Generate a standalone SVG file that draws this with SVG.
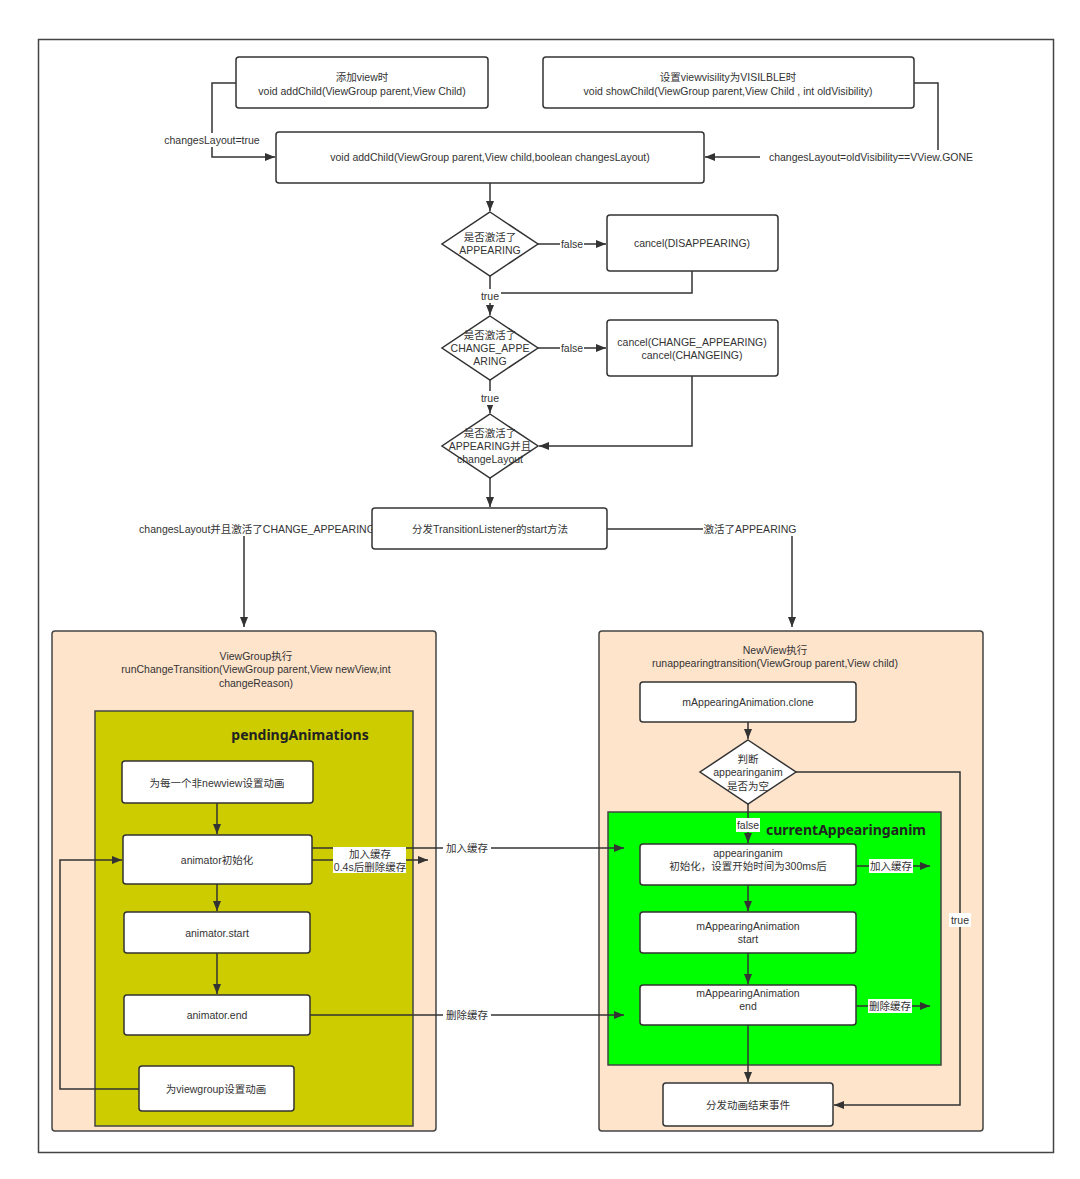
<svg xmlns="http://www.w3.org/2000/svg" width="1080" height="1179" viewBox="0 0 1080 1179">
<defs>
<marker id="ah" viewBox="0 0 10 10" refX="10" refY="5" markerWidth="10" markerHeight="10" markerUnits="userSpaceOnUse" orient="auto">
<path d="M0,1 L10,5 L0,9 Z" fill="#333"/>
</marker>
<style>
text{font-family:"Liberation Sans","Noto Sans CJK SC",sans-serif;font-size:10.5px;fill:#333;text-anchor:middle;dominant-baseline:central}
.box{fill:#fff;stroke:#333;stroke-width:1.5}
.cont{fill:#FFE4CC;stroke:#444;stroke-width:1.5}
.ln{fill:none;stroke:#333;stroke-width:1.5}
.ar{fill:none;stroke:#333;stroke-width:1.5;marker-end:url(#ah)}
.lbl{fill:#fff}
.title{font-family:"Noto Sans","Noto Sans CJK SC",sans-serif;font-weight:bold;font-size:14px;fill:#222}
</style>
</defs>
<rect x="0" y="0" width="1080" height="1179" fill="#fff"/>
<rect x="38.5" y="39.5" width="1015" height="1113" fill="none" stroke="#444" stroke-width="1.5"/>

<g id="containers">
<rect class="cont" x="52" y="631" width="384" height="500" rx="3"/>
<rect x="95" y="711" width="318" height="415" fill="#CCCC00" stroke="#444" stroke-width="1.5"/>
<rect class="cont" x="599" y="631" width="384" height="500" rx="3"/>
<rect x="608" y="812" width="333" height="253" fill="#00FF00" stroke="#444" stroke-width="1.5"/>
</g>

<g id="connectors">
<path class="ar" d="M236,83 H212 V157 H275"/>
<path class="ar" d="M914,83 H938 V157 H705"/>
<path class="ar" d="M490,183 V211"/>
<path class="ar" d="M538,244 H606"/>
<path class="ln" d="M692,271 V293 H490"/>
<path class="ar" d="M490,276 V315"/>
<path class="ar" d="M538,348 H606"/>
<path class="ar" d="M490,380 V413"/>
<path class="ar" d="M692,376 V446 H539"/>
<path class="ar" d="M490,478 V507"/>
<path class="ar" d="M372,529 H244 V627"/>
<path class="ar" d="M607,529 H792 V627"/>
<path class="ar" d="M217,803 V834"/>
<path class="ar" d="M217,884 V911"/>
<path class="ar" d="M217,953 V994"/>
<path class="ar" d="M139,1089 H60 V860 H122"/>
<path class="ar" d="M312,848 H624"/>
<path class="ar" d="M312,860 H428"/>
<path class="ar" d="M310,1015 H624"/>
<path class="ar" d="M748,722 V739"/>
<path class="ar" d="M796,772 H960 V1105 H834"/>
<path class="ar" d="M748,804 V843"/>
<path class="ar" d="M856,866 H930"/>
<path class="ar" d="M748,885 V911"/>
<path class="ar" d="M748,953 V984"/>
<path class="ar" d="M856,1006 H930"/>
<path class="ar" d="M748,1025 V1082"/>
</g>

<g id="labels">
<rect class="lbl" x="158" y="133" width="108" height="14"/>
<text x="212" y="140">changesLayout=true</text>
<rect class="lbl" x="760" y="150" width="222" height="14"/>
<text x="871" y="157">changesLayout=oldVisibility==VView.GONE</text>
<rect class="lbl" x="560" y="237" width="24" height="14"/>
<text x="572" y="244">false</text>
<rect class="lbl" x="479" y="289" width="22" height="14"/>
<text x="490" y="296">true</text>
<rect class="lbl" x="560" y="341" width="24" height="14"/>
<text x="572" y="348">false</text>
<rect class="lbl" x="479" y="391" width="22" height="14"/>
<text x="490" y="398">true</text>
<rect class="lbl" x="138" y="522" width="234" height="14"/>
<text x="257" y="529">changesLayout并且激活了CHANGE_APPEARING</text>
<rect class="lbl" x="703" y="522" width="94" height="14"/>
<text x="750" y="529">激活了APPEARING</text>
<rect class="lbl" x="443" y="841" width="48" height="14"/>
<text x="467" y="848">加入缓存</text>
<rect class="lbl" x="333" y="847" width="73" height="26"/>
<text x="370" y="854">加入缓存</text>
<text x="370" y="867">0.4s后删除缓存</text>
<rect class="lbl" x="443" y="1008" width="48" height="14"/>
<text x="467" y="1015">删除缓存</text>
<rect class="lbl" x="736" y="818" width="24" height="14"/>
<text x="748" y="825">false</text>
<rect class="lbl" x="869" y="859" width="44" height="14"/>
<text x="891" y="866">加入缓存</text>
<rect class="lbl" x="868" y="999" width="44" height="14"/>
<text x="890" y="1006">删除缓存</text>
<rect class="lbl" x="949" y="913" width="22" height="14"/>
<text x="960" y="920">true</text>
</g>

<g id="n_add">
<rect class="box" x="236" y="57" width="252" height="51" rx="3"/>
<text x="362" y="77">添加view时</text>
<text x="362" y="91">void addChild(ViewGroup parent,View Child)</text>
</g>
<g id="n_show">
<rect class="box" x="543" y="57" width="371" height="51" rx="3"/>
<text x="728" y="77">设置viewvisility为VISILBLE时</text>
<text x="728" y="91">void showChild(ViewGroup parent,View Child , int oldVisibility)</text>
</g>
<g id="n_addchild">
<rect class="box" x="276" y="132" width="428" height="51" rx="3"/>
<text x="490" y="157">void addChild(ViewGroup parent,View child,boolean changesLayout)</text>
</g>
<g id="d_appearing">
<polygon class="box" points="490,212 538,244 490,276 442,244"/>
<text x="490" y="237">是否激活了</text>
<text x="490" y="250">APPEARING</text>
</g>
<g id="n_cancel1">
<rect class="box" x="607" y="215" width="171" height="56" rx="3"/>
<text x="692" y="243">cancel(DISAPPEARING)</text>
</g>
<g id="d_change">
<polygon class="box" points="490,316 538,348 490,380 442,348"/>
<text x="490" y="335">是否激活了</text>
<text x="490" y="348">CHANGE_APPE</text>
<text x="490" y="361">ARING</text>
</g>
<g id="n_cancel2">
<rect class="box" x="607" y="320" width="171" height="56" rx="3"/>
<text x="692" y="342">cancel(CHANGE_APPEARING)</text>
<text x="692" y="355">cancel(CHANGEING)</text>
</g>
<g id="d_appearing2">
<polygon class="box" points="490,414 538,446 490,478 442,446"/>
<text x="490" y="433">是否激活了</text>
<text x="490" y="446">APPEARING并且</text>
<text x="490" y="459">changeLayout</text>
</g>
<g id="n_dispatch">
<rect class="box" x="372" y="508" width="235" height="41" rx="3"/>
<text x="490" y="529">分发TransitionListener的start方法</text>
</g>

<g id="c_viewgroup">
<text x="256" y="656">ViewGroup执行</text>
<text x="256" y="669">runChangeTransition(ViewGroup parent,View newView,int</text>
<text x="256" y="683">changeReason)</text>
<text class="title" x="300" y="734">pendingAnimations</text>
</g>
<g id="n_each">
<rect class="box" x="122" y="761" width="191" height="42" rx="3"/>
<text x="217" y="783">为每一个非newview设置动画</text>
</g>
<g id="n_init">
<rect class="box" x="123" y="835" width="189" height="49" rx="3"/>
<text x="217" y="860">animator初始化</text>
</g>
<g id="n_start">
<rect class="box" x="124" y="912" width="186" height="41" rx="3"/>
<text x="217" y="933">animator.start</text>
</g>
<g id="n_end">
<rect class="box" x="124" y="995" width="186" height="40" rx="3"/>
<text x="217" y="1015">animator.end</text>
</g>
<g id="n_vg">
<rect class="box" x="139" y="1066" width="155" height="45" rx="3"/>
<text x="216" y="1089">为viewgroup设置动画</text>
</g>

<g id="c_newview">
<text x="775" y="650">NewView执行</text>
<text x="775" y="663">runappearingtransition(ViewGroup parent,View child)</text>
<text class="title" x="846" y="829">currentAppearinganim</text>
</g>
<g id="n_clone">
<rect class="box" x="640" y="682" width="216" height="40" rx="3"/>
<text x="748" y="702">mAppearingAnimation.clone</text>
</g>
<g id="d_null">
<polygon class="box" points="748,740 796,772 748,804 700,772"/>
<text x="748" y="759">判断</text>
<text x="748" y="772">appearinganim</text>
<text x="748" y="786">是否为空</text>
</g>
<g id="n_ainit">
<rect class="box" x="640" y="844" width="216" height="41" rx="3"/>
<text x="748" y="853">appearinganim</text>
<text x="748" y="866">初始化，设置开始时间为300ms后</text>
</g>
<g id="n_astart">
<rect class="box" x="640" y="912" width="216" height="41" rx="3"/>
<text x="748" y="926">mAppearingAnimation</text>
<text x="748" y="939">start</text>
</g>
<g id="n_aend">
<rect class="box" x="640" y="985" width="216" height="40" rx="3"/>
<text x="748" y="993">mAppearingAnimation</text>
<text x="748" y="1006">end</text>
</g>
<g id="n_finish">
<rect class="box" x="663" y="1083" width="170" height="43" rx="3"/>
<text x="748" y="1105">分发动画结束事件</text>
</g>
</svg>
